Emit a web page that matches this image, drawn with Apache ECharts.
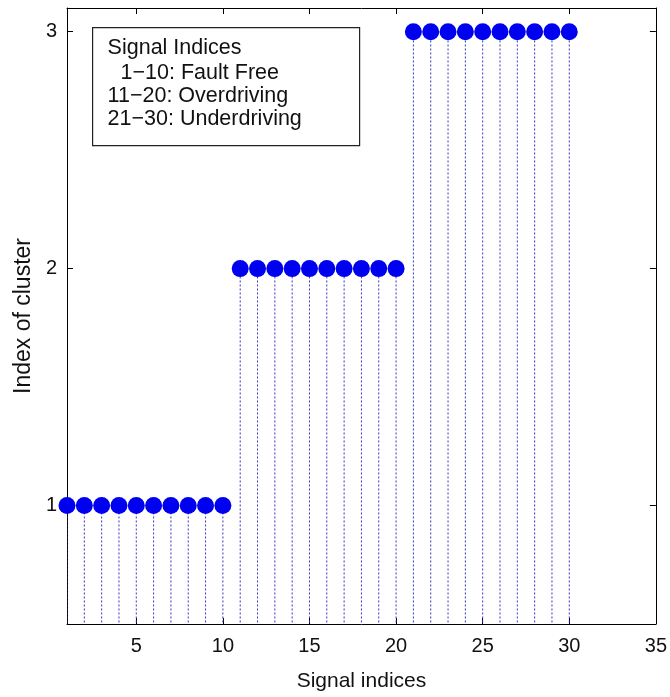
<!DOCTYPE html>
<html>
<head>
<meta charset="utf-8">
<script src="https://cdn.jsdelivr.net/npm/echarts@6/dist/echarts.min.js"></script>
<style>
  html, body { margin: 0; padding: 0; background: #ffffff; }
  #chart { width: 670px; height: 697px; }
</style>
</head>
<body>
<div id="chart"></div>
<script>
// Signal index of each sample and the cluster it was assigned to
const signalIndices = [1, 2, 3, 4, 5, 6, 7, 8, 9, 10,
                       11, 12, 13, 14, 15, 16, 17, 18, 19, 20,
                       21, 22, 23, 24, 25, 26, 27, 28, 29, 30];
const clusterIndex = [1, 1, 1, 1, 1, 1, 1, 1, 1, 1,
                      2, 2, 2, 2, 2, 2, 2, 2, 2, 2,
                      3, 3, 3, 3, 3, 3, 3, 3, 3, 3];
const xTicks = [5, 10, 15, 20, 25, 30, 35];
const yTicks = [1, 2, 3];
const noteTitle = 'Signal Indices';
const noteLines = ['1\u221210: Fault Free', '11\u221220: Overdriving', '21\u221230: Underdriving'];

const points = signalIndices.map((x, i) => [x, clusterIndex[i]]);

const FONT = 'Liberation Sans, Arial, sans-serif';
const axisLine = { show: true, onZero: false, lineStyle: { color: '#000', width: 1 } };

const chart = echarts.init(document.getElementById('chart'), null, { renderer: 'canvas' });

chart.setOption({
  animation: false,
  backgroundColor: '#ffffff',
  grid: { left: 67, right: 13, top: 8, bottom: 69, containLabel: false },
  xAxis: [
    {
      type: 'value', position: 'bottom', min: 1, max: 35,
      name: 'Signal indices', nameLocation: 'middle', nameGap: 47,
      nameTextStyle: { fontFamily: FONT, fontSize: 21, color: '#111' },
      axisLine: axisLine,
      axisTick: { show: true, inside: true, length: 6, customValues: xTicks, lineStyle: { color: '#000' } },
      axisLabel: { show: true, customValues: xTicks, margin: 12, fontFamily: FONT, fontSize: 20, color: '#111' },
      splitLine: { show: false }
    },
    {
      type: 'value', position: 'top', min: 1, max: 35,
      axisLine: axisLine,
      axisTick: { show: true, inside: true, length: 6, customValues: xTicks, lineStyle: { color: '#000' } },
      axisLabel: { show: false },
      splitLine: { show: false }
    }
  ],
  yAxis: [
    {
      type: 'value', position: 'left', min: 0.5, max: 3.1,
      name: 'Index of cluster', nameLocation: 'middle', nameGap: 32, nameRotate: 90,
      nameTextStyle: { fontFamily: FONT, fontSize: 23, color: '#111' },
      axisLine: axisLine,
      axisTick: { show: true, inside: true, length: 6, customValues: yTicks, lineStyle: { color: '#000' } },
      axisLabel: { show: true, customValues: yTicks, margin: 10, fontFamily: FONT, fontSize: 20, color: '#111' },
      splitLine: { show: false }
    },
    {
      type: 'value', position: 'right', min: 0.5, max: 3.1,
      axisLine: axisLine,
      axisTick: { show: true, inside: true, length: 6, customValues: yTicks, lineStyle: { color: '#000' } },
      axisLabel: { show: false },
      splitLine: { show: false }
    }
  ],
  series: [
    {
      // dotted stems rising from the zero baseline
      type: 'custom',
      xAxisIndex: 0, yAxisIndex: 0,
      clip: true,
      data: points,
      renderItem: function (params, api) {
        const x = api.value(0);
        const top = api.coord([x, api.value(1)]);
        const base = api.coord([x, 0]);
        return {
          type: 'line',
          shape: { x1: base[0], y1: base[1], x2: top[0], y2: top[1] },
          style: { stroke: '#3434c8', lineWidth: 1, lineDash: [2, 2] }
        };
      },
      z: 2
    },
    {
      type: 'scatter',
      xAxisIndex: 0, yAxisIndex: 0,
      data: points,
      symbol: 'circle',
      symbolSize: 17,
      itemStyle: { color: '#0000f0', opacity: 1 },
      clip: false,
      z: 3
    }
  ],
  graphic: [
    {
      type: 'group',
      left: 92, top: 27,
      z: 100,
      children: [
        {
          type: 'rect',
          shape: { x: 0, y: 0, width: 267, height: 118 },
          style: { fill: '#ffffff', stroke: '#222', lineWidth: 1.2 }
        },
        {
          type: 'text', x: 15, y: 20,
          style: { text: noteTitle, font: '21.5px ' + FONT, fill: '#111', verticalAlign: 'middle' }
        },
        {
          type: 'text', x: 28, y: 45,
          style: { text: noteLines[0], font: '21.5px ' + FONT, fill: '#111', verticalAlign: 'middle' }
        },
        {
          type: 'text', x: 15, y: 68,
          style: { text: noteLines[1], font: '21.5px ' + FONT, fill: '#111', verticalAlign: 'middle' }
        },
        {
          type: 'text', x: 15, y: 91,
          style: { text: noteLines[2], font: '21.5px ' + FONT, fill: '#111', verticalAlign: 'middle' }
        }
      ]
    }
  ]
});
</script>
</body>
</html>
